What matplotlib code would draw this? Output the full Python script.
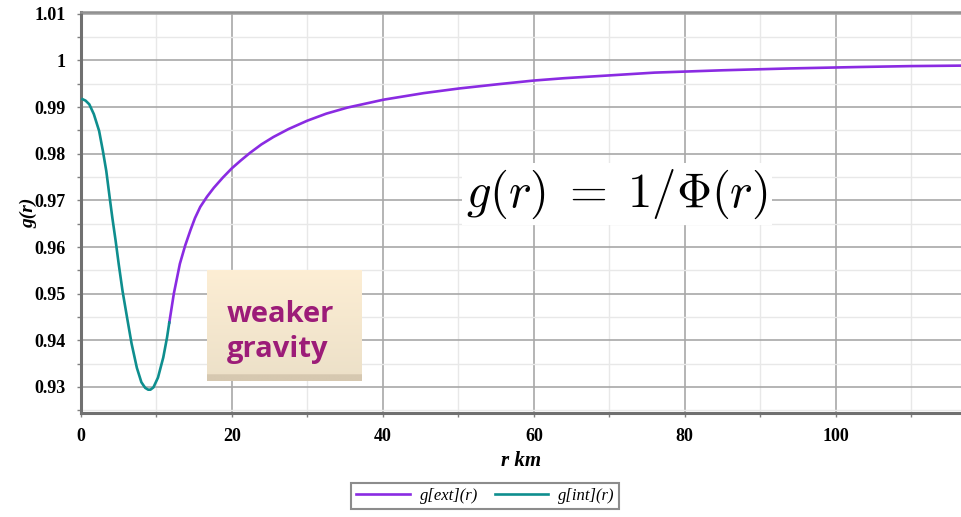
import numpy as np
import matplotlib.pyplot as plt
from matplotlib.ticker import MultipleLocator, FuncFormatter

plt.rcParams['mathtext.fontset'] = 'cm'

# interior solution g[int](r)
r_int = np.array([0.2, 0.6, 1.1, 1.7, 2.4, 2.9, 3.35, 3.8, 4.15, 4.6, 5.0, 5.5,
                  6.1, 6.7, 7.4, 8.0, 8.5, 8.9, 9.2, 9.6, 10.2, 10.9, 11.4, 11.7])
g_int = np.array([0.9917, 0.9914, 0.9906, 0.9885, 0.9849, 0.9806, 0.9763, 0.9706,
                  0.9663, 0.9612, 0.9563, 0.9506, 0.9449, 0.9393, 0.9341, 0.9310,
                  0.9298, 0.9294, 0.9294, 0.9299, 0.9320, 0.9363, 0.9406, 0.9438])

# exterior solution g[ext](r)
r_ext = np.array([11.7, 12.3, 13.1, 13.8, 14.5, 15.1, 15.8, 16.7, 17.6, 18.8, 20.0,
                  21.2, 22.4, 23.9, 25.5, 27.5, 30.0, 32.5, 35.3, 40.1, 45.4, 50.1,
                  55.2, 60.0, 64.0, 70.0, 76.0, 85.0, 94.0, 103.0, 110.0, 116.6])
g_ext = np.array([0.9438, 0.9500, 0.9564, 0.9603, 0.9636, 0.9662, 0.9686, 0.9708,
                  0.9727, 0.9749, 0.9769, 0.9786, 0.9802, 0.9820, 0.9836, 0.9853,
                  0.9871, 0.9886, 0.9899, 0.9916, 0.9930, 0.9940, 0.9949, 0.9957,
                  0.9962, 0.9968, 0.9974, 0.9979, 0.9983, 0.9986, 0.9988, 0.9989])

fig = plt.figure(figsize=(9.61, 5.17), dpi=100)
ax = fig.add_axes([81/961, 1 - 413/517, 1 - 81/961, 401/517])

ax.plot(r_ext, g_ext, color='#8a2be2', lw=1.9, label='g[ext](r)', zorder=3)
ax.plot(r_int, g_int, color='#0e8e8e', lw=1.9, label='g[int](r)', zorder=3)

ax.set_xlim(0, 116.6)
ax.set_ylim(0.9244, 1.0104)
ax.xaxis.set_major_locator(MultipleLocator(20))
ax.xaxis.set_minor_locator(MultipleLocator(10))
ax.yaxis.set_major_locator(MultipleLocator(0.01))
ax.yaxis.set_minor_locator(MultipleLocator(0.005))
ax.yaxis.set_major_formatter(FuncFormatter(lambda v, p: '%g' % round(v, 2)))

ax.grid(which='major', color='#a8a8a8', lw=1.2)
ax.grid(which='minor', color='#e8e8e8', lw=1.0)
ax.set_axisbelow(True)

for s in ['left', 'bottom']:
    ax.spines[s].set_color('#707070')
    ax.spines[s].set_linewidth(2.2)
ax.spines['top'].set_color('#909090')
ax.spines['top'].set_linewidth(1.8)
ax.spines['right'].set_visible(False)

ax.tick_params(which='both', direction='out', length=3, color='#808080', width=1)
ax.tick_params(which='major', pad=8)
for lab in ax.get_xticklabels() + ax.get_yticklabels():
    lab.set_fontfamily('Liberation Serif')
    lab.set_fontweight('bold')
    lab.set_fontsize(13)

ax.set_xlabel('r km', fontfamily='Liberation Serif', fontweight='bold',
              fontstyle='italic', fontsize=15, labelpad=4)
ax.set_ylabel('g(r)', fontfamily='Liberation Serif', fontweight='bold',
              fontstyle='italic', fontsize=14, labelpad=-2)

# formula label
ax.text(0.609, 0.545, r'$g(r)\;=\;1/\Phi(r)$', transform=ax.transAxes,
        fontsize=35, ha='center', va='center', zorder=5,
        bbox=dict(facecolor='white', edgecolor='none', pad=3))

# "weaker gravity" note with a soft gradient fill
box = fig.add_axes([207/961, 1 - 381/517, 154/961, 111/517])
grad = np.linspace(0, 1, 100)[:, None]
top = np.array([253, 238, 212]) / 255
bot = np.array([236, 224, 200]) / 255
img = top + (bot - top) * grad[..., None]
img[-6:] = np.array([214, 200, 176]) / 255
box.imshow(img, aspect='auto', extent=[0, 1, 0, 1])
box.set_axis_off()
box.text(0.13, 0.44, 'weaker\ngravity', ha='left', va='center',
         fontfamily='Open Sans', fontweight='bold', fontsize=21,
         color='#9c1c78', linespacing=1.3)

leg = fig.legend(loc='lower center', bbox_to_anchor=(0.505, 0.0), ncol=2,
                 frameon=True, fancybox=False, handlelength=3.2,
                 columnspacing=1.0, handletextpad=0.6, borderpad=0.3,
                 prop={'family': 'Liberation Serif', 'style': 'italic', 'size': 12})
leg.get_frame().set_edgecolor('#707070')
leg.get_frame().set_linewidth(1.5)

plt.savefig('out.png', dpi=100)
